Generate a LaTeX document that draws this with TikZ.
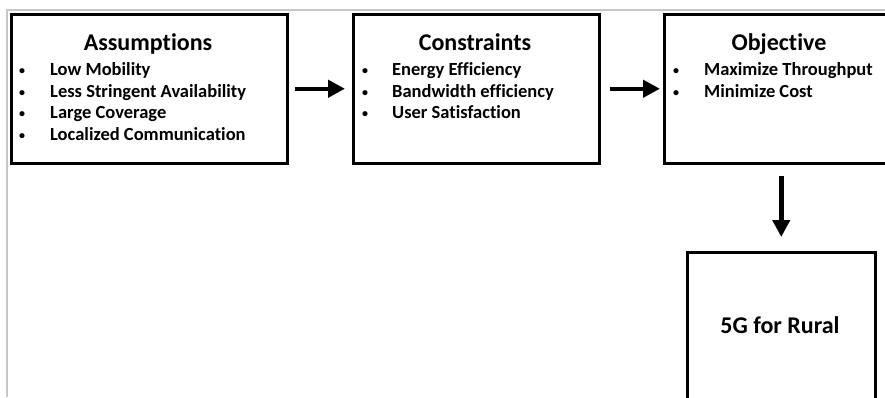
\documentclass[tikz,border=0pt]{standalone}
\usepackage{fontspec}
\setmainfont{Carlito}[Ligatures=NoCommon]
\usetikzlibrary{arrows.meta}
\begin{document}
\begin{tikzpicture}[x=1pt,y=-1pt,
 box/.style={draw=black, line width=2.5pt, inner sep=0pt, anchor=north west},
 ttl/.style={font=\bfseries\fontsize{24}{28}\selectfont, anchor=base, inner sep=0pt},
 itm/.style={font=\bfseries\fontsize{18.5}{21}\selectfont, anchor=base west, inner sep=0pt},
 bul/.style={font=\bfseries\fontsize{12}{14}\selectfont, anchor=base, inner sep=0pt},
 arr/.style={line width=4.5pt, -{Triangle[length=17pt,width=17pt]}},
 frameline/.style={draw=black!22, line width=1.5pt}]
\clip (0,0) rectangle (885,397);
\draw[frameline] (7,397) -- (7,10) -- (885,10);
% boxes
\node[box, minimum width=276pt, minimum height=149pt] (asm) at (10,13) {};
\node[box, minimum width=246pt, minimum height=149pt] (con) at (352,13) {};
\node[box, minimum width=234pt, minimum height=149pt] (obj) at (663,13) {};
\node[box, minimum width=188pt, minimum height=200pt] (rur) at (686,251) {};
% assumptions text
\node[ttl] (asmt) at (148,50) {Assumptions};
\node[bul] (ab1) at (22,74) {•};
\node[bul] (ab2) at (22,96) {•};
\node[bul] (ab3) at (22,117) {•};
\node[bul] (ab4) at (22,139) {•};
\node[itm] (ai1) at (50,75) {Low Mobility};
\node[itm] (ai2) at (50,97) {Less Stringent Availability};
\node[itm] (ai3) at (50,118) {Large Coverage};
\node[itm] (ai4) at (50,140) {Localized Communication};
% constraints text
\node[ttl] (cont) at (475,50) {Constraints};
\node[bul] (cb1) at (365,74) {•};
\node[bul] (cb2) at (365,96) {•};
\node[bul] (cb3) at (365,117) {•};
\node[itm] (ci1) at (392,75) {Energy Efficiency};
\node[itm] (ci2) at (392,97) {Bandwidth efficiency};
\node[itm] (ci3) at (392,118) {User Satisfaction};
% objective text
\node[ttl] (objt) at (779,50) {Objective};
\node[bul] (ob1) at (676,74) {•};
\node[bul] (ob2) at (676,96) {•};
\node[itm] (oi1) at (704,75) {Maximize Throughput};
\node[itm] (oi2) at (704,97) {Minimize Cost};
% rural text
\node[ttl] (rurt) at (780,333) {5G for Rural};
% arrows
\draw[arr, shorten <=6pt, shorten >=7pt] (asm.east) -- (con.west);
\draw[arr, shorten <=9pt, shorten >=3pt] (con.east) -- (obj.west);
\draw[arr, shorten <=11pt, shorten >=14pt] (obj.south) -- (rur.north);
\end{tikzpicture}
\end{document}
